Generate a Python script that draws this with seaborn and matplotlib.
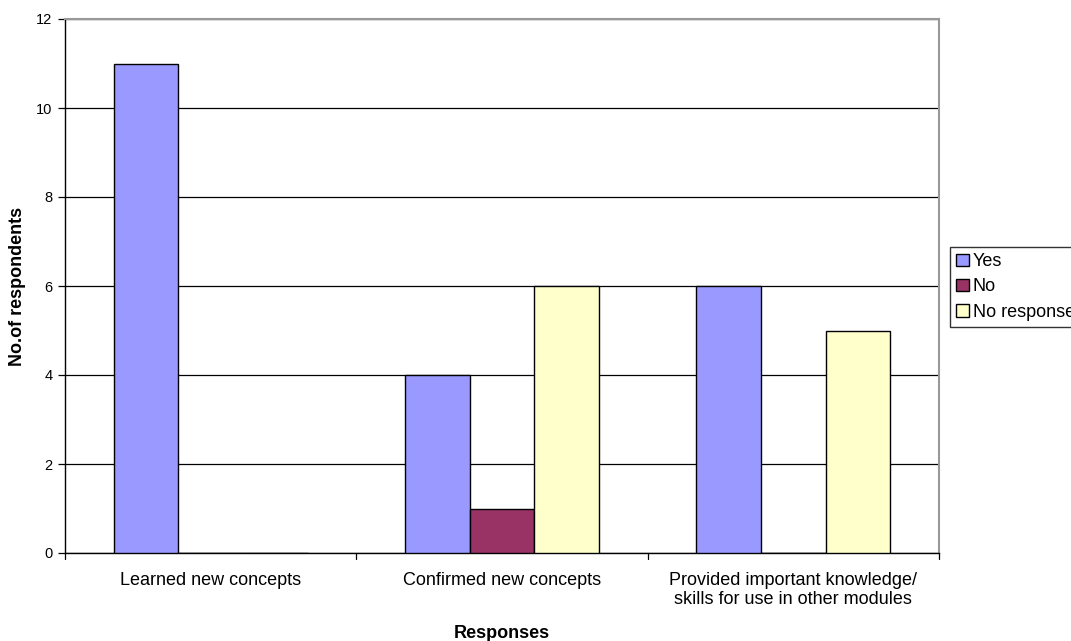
import matplotlib
matplotlib.use("Agg")
import matplotlib.pyplot as plt
import seaborn as sns
import pandas as pd

categories = ["Learned new concepts", "Confirmed new concepts",
              "Provided important knowledge/\nskills for use in other modules"]
series_names = ["Yes", "No", "No response"]
yes_values = [11, 4, 6]
no_values = [0, 1, 0]
noresp_values = [0, 6, 5]
colors = ["#9999FF", "#993366", "#FFFFCC"]
y_ticks = [0, 2, 4, 6, 8, 10, 12]

rows = []
for s, vals in zip(series_names, [yes_values, no_values, noresp_values]):
    for c, v in zip(categories, vals):
        rows.append({"Category": c, "Series": s, "Value": v})
df = pd.DataFrame(rows)

sns.set_style("white")
plt.rcParams['font.family'] = ['Liberation Sans', 'DejaVu Sans']
plt.rcParams['text.color'] = 'black'
plt.rcParams['axes.labelcolor'] = 'black'
plt.rcParams['xtick.color'] = 'black'
plt.rcParams['ytick.color'] = 'black'

fig = plt.figure(figsize=(10.71, 6.41), dpi=100)
ax = fig.add_axes([65/1071, 88/641, (939-65)/1071, (553-19)/641])

sns.barplot(data=df, x="Category", y="Value", hue="Series", hue_order=series_names,
            palette=colors, width=2/3, edgecolor="black", linewidth=1.0,
            ax=ax, zorder=3, saturation=1, legend=True)

ax.set_ylim(0, 12)
ax.set_xlim(-0.5, 2.5)
ax.set_yticks(y_ticks)
ax.set_yticklabels([str(t) for t in y_ticks], fontsize=10.5)
ax.yaxis.grid(True, color="black", linewidth=0.9, zorder=0)
ax.set_axisbelow(True)

ax.set_xticks([0, 1, 2])
ax.set_xticklabels(categories, fontsize=13, linespacing=1.1)
ax.tick_params(axis="x", length=0, pad=14)
ax.tick_params(axis="y", length=5, width=0.9, color="black", direction="out",
               left=True, pad=4)
for xb in [-0.5, 0.5, 1.5, 2.5]:
    ax.plot([xb, xb], [0, -0.012], transform=ax.get_xaxis_transform(),
            color="black", linewidth=0.9, clip_on=False)

for side in ["left", "bottom"]:
    ax.spines[side].set_color("black")
    ax.spines[side].set_linewidth(1.0)
for side in ["top", "right"]:
    ax.spines[side].set_visible(True)
    ax.spines[side].set_color("#999999")
    ax.spines[side].set_linewidth(1.5)

ax.set_xlabel("")
ax.set_ylabel("")
fig.text((65 + 939) / 2 / 1071, 1 - 633/641, "Responses", fontsize=13,
         fontweight="bold", ha="center", va="center")
fig.text(18/1071, 1 - 286/641, "No.of respondents", fontsize=13,
         fontweight="bold", ha="center", va="center", rotation=90)

leg = ax.legend(loc="upper left", bbox_to_anchor=(950/1071, 1 - 247/641),
                bbox_transform=fig.transFigure, fontsize=13, frameon=True,
                fancybox=False, edgecolor="black", handlelength=0.7,
                handleheight=0.7, handletextpad=0.2, borderpad=0.35,
                labelspacing=0.45, borderaxespad=0)
leg.get_frame().set_linewidth(1.0)

fig.savefig("out.png", dpi=100)
